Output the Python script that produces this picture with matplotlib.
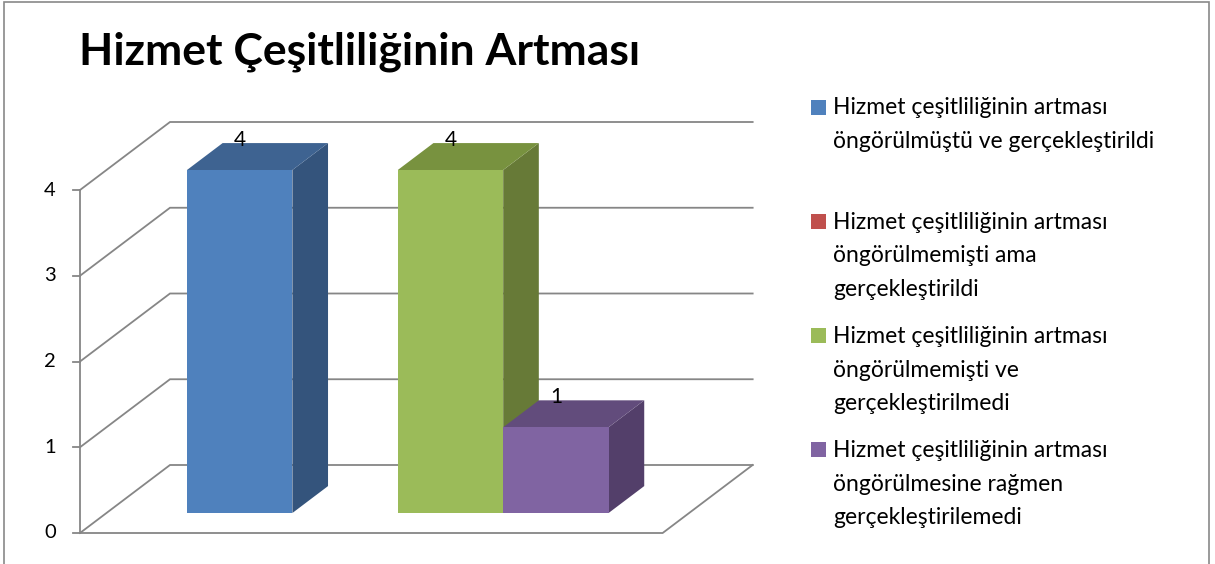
import matplotlib
matplotlib.use("Agg")
import matplotlib.pyplot as plt
from matplotlib.patches import Polygon, Rectangle

plt.rcParams['font.family'] = ['Lato', 'DejaVu Sans']

# --- veri ---
title = "Hizmet Çeşitliliğinin Artması"
series_labels = [
    ["Hizmet çeşitliliğinin artması", "öngörülmüştü ve gerçekleştirildi"],
    ["Hizmet çeşitliliğinin artması", "öngörülmemişti ama", "gerçekleştirildi"],
    ["Hizmet çeşitliliğinin artması", "öngörülmemişti ve", "gerçekleştirilmedi"],
    ["Hizmet çeşitliliğinin artması", "öngörülmesine rağmen", "gerçekleştirilemedi"],
]
values = [4, 0, 4, 1]
y_ticks = [0, 1, 2, 3, 4]

front_colors = ["#4F81BD", "#C0504D", "#9BBB59", "#8064A2"]
top_colors = ["#3E6391", "#973E3C", "#78923F", "#624C7C"]
side_colors = ["#34547C", "#7F3432", "#677A37", "#533F6A"]

# --- yerlesim (piksel) ---
W, H = 1215, 564
PX_X, PX_Y = 105.4, 85.75          # bir kategori / bir birim deger
ORIGIN = (80, 533)                 # on-sol-alt kose
GAP = 0.764                        # zemin kenari ile cubuk arasi
DX, DY = 90 / PX_X, 68 / PX_Y      # derinlik vektoru
D0, D1 = 0.294, 0.69               # cubuklarin derinlik araligi
GRID = "#868686"

ymax = max(y_ticks)
floor_w = len(values) + 2 * GAP


def proj(x, y, d):
    return (x + d * DX, y + d * DY)


fig = plt.figure(figsize=(W / 100, H / 100), dpi=100)
ax = fig.add_axes([ORIGIN[0] / W, (H - ORIGIN[1]) / H,
                   (floor_w + DX) * PX_X / W, (ymax + DY) * PX_Y / H])
ax.set_xlim(0, floor_w + DX)
ax.set_ylim(0, ymax + DY)
ax.axis('off')

# duvarlar ve kilavuz cizgileri
for v in y_ticks:
    pts = [proj(0, v, 0), proj(0, v, 1), proj(floor_w, v, 1)]
    ax.plot([p[0] for p in pts], [p[1] for p in pts], color=GRID, lw=1.3,
            solid_joinstyle='miter', clip_on=False)
    ax.plot([-7 / PX_X, 0], [v, v], color=GRID, lw=1.3, clip_on=False)
    ax.text(-24 / PX_X, v, str(v), ha='right', va='center', fontsize=14.5,
            clip_on=False)
ax.plot([0, 0], [0, ymax], color=GRID, lw=1.3, clip_on=False)
pts = [proj(0, 0, 0), proj(floor_w, 0, 0), proj(floor_w, 0, 1)]
ax.plot([p[0] for p in pts], [p[1] for p in pts], color=GRID, lw=1.3,
        solid_joinstyle='miter', clip_on=False)

# cubuklar
for i, v in enumerate(values):
    if v == 0:
        continue
    x0, x1 = GAP + i, GAP + i + 1
    side = [proj(x1, 0, D0), proj(x1, 0, D1), proj(x1, v, D1), proj(x1, v, D0)]
    top = [proj(x0, v, D0), proj(x1, v, D0), proj(x1, v, D1), proj(x0, v, D1)]
    front = [proj(x0, 0, D0), proj(x1, 0, D0), proj(x1, v, D0), proj(x0, v, D0)]
    ax.add_patch(Polygon(side, closed=True, fc=side_colors[i], ec='none', zorder=3))
    ax.add_patch(Polygon(top, closed=True, fc=top_colors[i], ec='none', zorder=3))
    ax.add_patch(Polygon(front, closed=True, fc=front_colors[i], ec='none', zorder=3))
    lx, ly = proj(x0 + 0.5, v, D0)
    ax.text(lx, ly + 0.35, str(v), ha='center', va='center', fontsize=15,
            zorder=4)

# baslik
fig.text(79 / W, 1 - 65 / H, title, ha='left', va='baseline',
         fontsize=32, fontweight='bold')

# gösterge
base0, step, line_h = 114.5, 114.3, 33.5
for i, lines in enumerate(series_labels):
    b = base0 + i * step
    fig.add_artist(Rectangle((811 / W, 1 - b / H), 15 / W, 15 / H,
                             transform=fig.transFigure, fc=front_colors[i],
                             ec='none'))
    for k, line in enumerate(lines):
        fig.text(833 / W, 1 - (b + k * line_h) / H, line, ha='left',
                 va='baseline', fontsize=16.5)

# cerceve
fig.add_artist(Rectangle((4 / W, -0.02), 1205 / W, 1.02 - 2 / H,
                         transform=fig.transFigure, fc='none', ec='#898989',
                         lw=1.2))

fig.savefig("out.png", dpi=100)
